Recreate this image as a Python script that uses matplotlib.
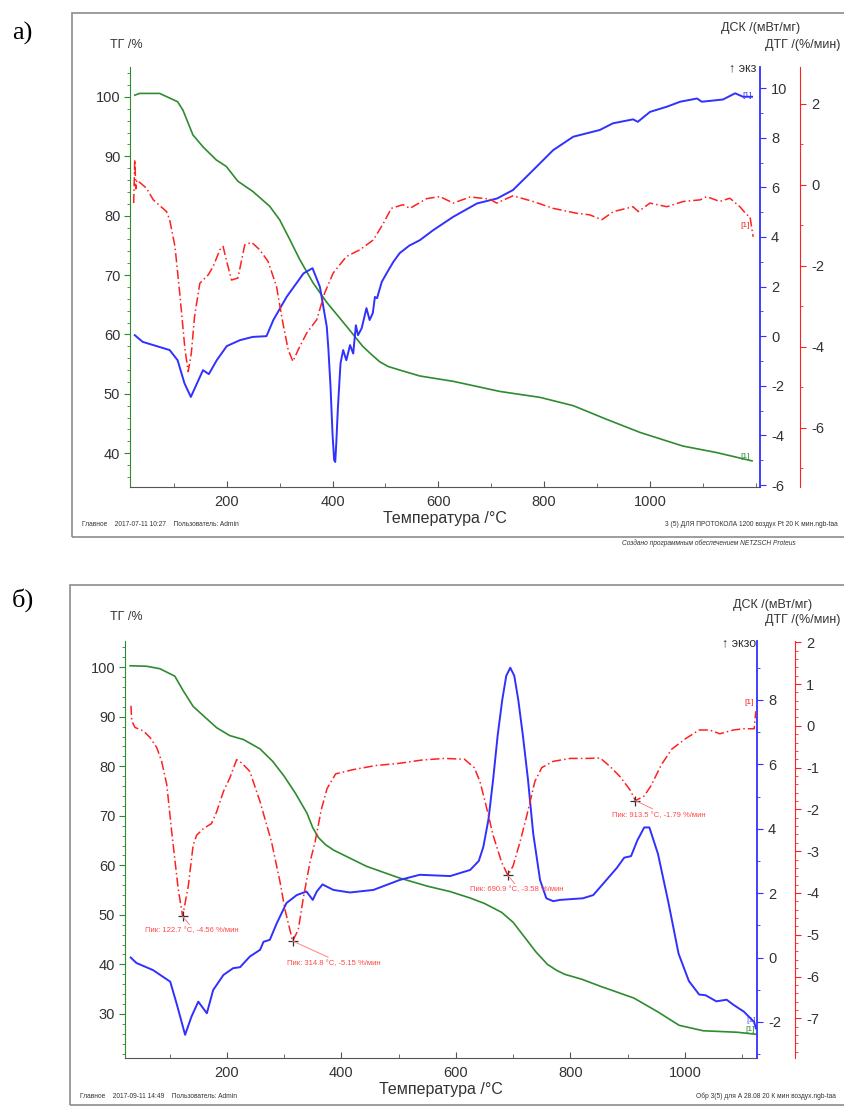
import matplotlib
matplotlib.use('Agg')
import matplotlib.pyplot as plt
from matplotlib.ticker import MultipleLocator, FixedLocator
from matplotlib.patches import Rectangle

plt.rcParams['font.family'] = ['Liberation Sans', 'DejaVu Sans']
plt.rcParams['axes.unicode_minus'] = False

GREEN = '#2e8b2e'
BLUE = '#3030ff'
RED = '#ff2020'
TXT = '#333333'

# ---------------- panel a) ----------------
a_tg_t = [26, 35, 73, 107, 117, 136, 155, 180, 199, 221, 249, 281, 300, 319, 338, 363, 389, 427,
          457, 470, 489, 505, 527, 565, 628, 654, 716, 792, 855, 918, 981, 1062, 1126, 1193]
a_tg = [100.3, 100.6, 100.6, 99.2, 97.8, 93.6, 91.6, 89.4, 88.3, 85.8, 84.1, 81.6, 79.3, 76.0, 72.6,
        68.7, 65.4, 61.3, 58.0, 56.9, 55.4, 54.6, 54.0, 53.0, 52.1, 51.6, 50.4, 49.4, 48.0, 45.7,
        43.5, 41.2, 40.1, 38.7]

a_dsc_t = [26, 41, 92, 107, 120, 132, 145, 155, 166, 181, 200, 225, 249, 275, 288, 313, 345, 362, 376,
           389, 392, 396, 400, 403, 405, 407, 410, 413, 415, 420, 426, 433, 439, 444, 448, 455, 464,
           470, 476, 480, 484, 493, 502, 515, 527, 545, 565, 590, 628, 673, 711, 741, 779, 817, 855,
           905, 930, 968, 977, 1000, 1032, 1057, 1089, 1098, 1138, 1161, 1176, 1193]
a_dsc = [0.04, -0.23, -0.56, -0.97, -1.9, -2.45, -1.84, -1.37, -1.53, -0.97, -0.40, -0.16, -0.03, 0.0,
         0.65, 1.58, 2.53, 2.74, 1.99, 0.38, -0.5, -2.0, -4.0, -5.0, -5.07, -4.3, -2.9, -1.8, -1.09,
         -0.56, -0.97, -0.36, -0.70, 0.44, 0.04, 0.32, 1.13, 0.65, 0.93, 1.58, 1.53, 2.19, 2.53, 3.0,
         3.35, 3.65, 3.87, 4.27, 4.81, 5.35, 5.55, 5.89, 6.69, 7.50, 8.04, 8.31, 8.58, 8.74, 8.64,
         9.04, 9.25, 9.45, 9.58, 9.45, 9.54, 9.79, 9.65, 9.65]

a_dtg_t = [24, 26, 28, 30, 48, 61, 86, 92, 102, 111, 121, 127, 133, 139, 149, 165, 174, 187, 193, 199,
           209, 221, 234, 247, 262, 278, 294, 306, 316, 325, 335, 351, 370, 385, 401, 426, 452, 477,
           496, 511, 533, 546, 578, 603, 628, 660, 697, 710, 741, 779, 817, 861, 886, 909, 931, 968,
           978, 1000, 1032, 1063, 1095, 1107, 1132, 1151, 1170, 1183, 1189, 1195]
a_dtg = [-0.45, 0.62, -0.1, 0.12, -0.08, -0.37, -0.66, -0.86, -1.52, -2.67, -4.07, -4.61, -4.15, -3.25,
         -2.43, -2.22, -2.02, -1.60, -1.52, -1.85, -2.35, -2.30, -1.48, -1.42, -1.60, -1.89, -2.51,
         -3.41, -4.07, -4.36, -4.07, -3.66, -3.33, -2.67, -2.18, -1.77, -1.60, -1.36, -0.95, -0.58,
         -0.49, -0.58, -0.34, -0.29, -0.45, -0.30, -0.35, -0.45, -0.27, -0.41, -0.58, -0.70, -0.74,
         -0.86, -0.66, -0.54, -0.66, -0.45, -0.54, -0.41, -0.37, -0.29, -0.41, -0.33, -0.54, -0.74,
         -0.78, -1.28]

# ---------------- panel б) ----------------
b_tg_t = [31, 60, 83, 109, 124, 141, 159, 182, 205, 229, 258, 280, 300, 320, 340, 350, 360, 372, 386,
          400, 444, 500, 550, 590, 625, 650, 680, 700, 720, 740, 760, 776, 790, 820, 852, 911, 953,
          990, 1032, 1091, 1124]
b_tg = [100.3, 100.2, 99.7, 98.2, 95.2, 92.1, 90.2, 87.8, 86.2, 85.4, 83.5, 81.0, 78.0, 74.5, 70.5,
        67.6, 65.6, 64.2, 63.1, 62.3, 59.8, 57.5, 55.8, 54.7, 53.4, 52.3, 50.5, 48.5, 45.5, 42.5,
        40.0, 38.8, 38.0, 37.0, 35.6, 33.2, 30.4, 27.7, 26.6, 26.3, 25.9]

b_dsc_t = [32, 42, 71, 101, 112, 127, 138, 150, 165, 176, 194, 211, 223, 240, 258, 264, 275, 287, 304,
           322, 339, 350, 357, 367, 386, 415, 456, 502, 537, 590, 625, 640, 648, 657, 665, 673, 681,
           688, 695, 702, 709, 717, 726, 735, 747, 758, 770, 782, 822, 840, 863, 881, 894, 906, 917,
           929, 938, 953, 971, 989, 1007, 1025, 1036, 1055, 1073, 1085, 1103, 1121, 1124]
b_dsc = [0.0, -0.17, -0.39, -0.75, -1.42, -2.40, -1.84, -1.37, -1.73, -1.01, -0.54, -0.33, -0.30, 0.03,
         0.24, 0.49, 0.55, 1.06, 1.69, 1.94, 2.05, 1.79, 2.05, 2.27, 2.10, 2.02, 2.10, 2.41, 2.57,
         2.53, 2.72, 3.0, 3.44, 4.3, 5.52, 6.9, 8.0, 8.75, 9.0, 8.75, 8.0, 6.9, 5.52, 3.86, 2.41, 1.84,
         1.75, 1.79, 1.84, 1.94, 2.41, 2.78, 3.10, 3.15, 3.64, 4.04, 4.04, 3.22, 1.73, 0.12, -0.73,
         -1.15, -1.17, -1.36, -1.31, -1.47, -1.68, -2.0, -2.2]

b_dtg_t = [32.5, 33.7, 39.5, 54, 65.7, 77.4, 86, 95, 103.6, 115, 122.7, 132.6, 141, 147, 159, 173, 182,
           194, 205, 217, 226, 240, 258, 278, 293, 301.5, 314.8, 324.7, 333, 345, 354, 365, 375, 390,
           420, 460, 500, 540, 580, 615, 632, 642, 654, 665, 680, 690.9, 700, 712, 724, 738, 750, 770,
           800, 830, 852, 869, 887, 905, 913.5, 929, 941, 959, 977, 1001, 1025, 1043, 1061, 1085,
           1103, 1121, 1124]
b_dtg = [0.48, 0.12, -0.04, -0.12, -0.28, -0.52, -0.85, -1.41, -2.54, -3.91, -4.56, -3.83, -2.86,
         -2.62, -2.46, -2.34, -2.06, -1.57, -1.25, -0.81, -0.89, -1.09, -1.82, -2.78, -3.75, -4.40,
         -5.15, -4.88, -4.16, -3.27, -2.78, -2.0, -1.5, -1.15, -1.05, -0.95, -0.9, -0.82, -0.78, -0.8,
         -1.0, -1.33, -1.98, -2.62, -3.27, -3.58, -3.35, -2.78, -2.14, -1.33, -1.0, -0.85, -0.78,
         -0.78, -0.77, -0.97, -1.22, -1.55, -1.79, -1.68, -1.43, -0.93, -0.56, -0.31, -0.10, -0.10,
         -0.19, -0.10, -0.07, -0.07, 0.35]

b_peaks_t = [122.7, 314.8, 690.9, 913.5]
b_peaks_v = [-4.56, -5.15, -3.58, -1.79]
b_peak_off = [(6.5, -7.9), (30, -13.7), (6.5, -7.9), (16.6, -7.9)]

x_ticks = [200, 400, 600, 800, 1000]

W, H = 844, 1108
fig = plt.figure(figsize=(W / 100, H / 100), dpi=100)


def fx(x):
    return x / W


def fy(y):
    return 1 - y / H


def build(left, right, top, bottom, xlim, tg_lim, dsc_lim, dtg_lim, red_px, dtg_major, dtg_minor):
    ax = fig.add_axes([fx(left), fy(bottom), fx(right - left), (bottom - top) / H])
    ax.patch.set_alpha(0)
    a2 = ax.twinx()
    a3 = ax.twinx()
    ax.set_xlim(xlim)
    ax.set_ylim(tg_lim)
    a2.set_ylim(dsc_lim)
    a3.set_ylim(dtg_lim)
    for s in ['top', 'right']:
        ax.spines[s].set_visible(False)
    ax.spines['left'].set_color(GREEN)
    ax.spines['bottom'].set_color('#555555')
    for s in ['top', 'left', 'bottom']:
        a2.spines[s].set_visible(False)
        a3.spines[s].set_visible(False)
    a2.spines['right'].set_color(BLUE)
    a2.spines['right'].set_linewidth(1.3)
    a3.spines['right'].set_color(RED)
    a3.spines['right'].set_position(('outward', red_px * 0.72))
    ax.xaxis.set_major_locator(FixedLocator(x_ticks))
    ax.xaxis.set_minor_locator(MultipleLocator(100))
    ax.yaxis.set_major_locator(MultipleLocator(10))
    ax.yaxis.set_minor_locator(MultipleLocator(2))
    a2.yaxis.set_major_locator(MultipleLocator(2))
    a2.yaxis.set_minor_locator(MultipleLocator(1))
    a3.yaxis.set_major_locator(MultipleLocator(dtg_major))
    a3.yaxis.set_minor_locator(MultipleLocator(dtg_minor))
    ax.tick_params(axis='x', which='both', direction='in', colors='#555555', labelcolor=TXT,
                   labelsize=10.5, pad=6)
    ax.tick_params(axis='x', which='major', length=4)
    ax.tick_params(axis='x', which='minor', length=3)
    ax.tick_params(axis='y', which='both', direction='out', colors=GREEN, labelcolor=TXT,
                   labelsize=10.5, pad=3)
    ax.tick_params(axis='y', which='major', length=4)
    ax.tick_params(axis='y', which='minor', length=2)
    a2.tick_params(axis='y', which='both', direction='out', colors=BLUE, labelcolor=TXT,
                   labelsize=10.5, pad=4)
    a2.tick_params(axis='y', which='major', length=4)
    a2.tick_params(axis='y', which='minor', length=2)
    a3.tick_params(axis='y', which='both', direction='out', colors=RED, labelcolor=TXT,
                   labelsize=10.5, pad=4)
    a3.tick_params(axis='y', which='major', length=4)
    a3.tick_params(axis='y', which='minor', length=2)
    ax.set_xlabel('Температура /°C', fontsize=11.5, color=TXT, labelpad=1)
    return ax, a2, a3


def frame(left, top, bottom):
    fig.patches.append(Rectangle((fx(left), fy(bottom)), fx(900 - left), (bottom - top) / H,
                                 transform=fig.transFigure, fill=False, ec='#8c8c8c', lw=1.2))


def headers(top_ttl, dsc_y, dtg_y, dsc_right, exo_y, exo_txt, label, label_y):
    fig.text(fx(12), fy(label_y), label, fontsize=19, family='Liberation Serif', va='center')
    fig.text(fx(110), fy(top_ttl), 'ТГ /%', fontsize=9, color=TXT, va='center')
    fig.text(fx(dsc_right), fy(dsc_y), 'ДСК /(мВт/мг)', fontsize=9, color=TXT, va='center', ha='right')
    fig.text(fx(840), fy(dtg_y), 'ДТГ /(%/мин)', fontsize=9, color=TXT, va='center', ha='right')
    fig.text(fx(756), fy(exo_y), exo_txt, fontsize=9, color=TXT, va='center', ha='right')


# ---- panel a ----
frame(72, 13, 537)
ax, a2, a3 = build(130, 760, 67, 487, (17, 1208), (34.3, 105.05), (-6.08, 10.85), (-7.46, 2.91), 40, 2, 1)
ax.plot(a_tg_t, a_tg, color=GREEN, lw=1.2)
a2.plot(a_dsc_t, a_dsc, color=BLUE, lw=1.4)
a3.plot(a_dtg_t, a_dtg, color=RED, lw=1.1, linestyle=(0, (6, 2, 1, 2)))
ax.text(1180, 39.5, '[1]', color=GREEN, fontsize=6, ha='center', va='center')
a2.text(1183, 9.7, '[1]', color=BLUE, fontsize=6, ha='center', va='center')
a3.text(1180, -1.0, '[1]', color=RED, fontsize=6, ha='center', va='center')
headers(45, 28, 45, 800, 68, '↑ экз', 'а)', 33)
fig.text(fx(82), fy(524), 'Главное    2017-07-11 10:27    Пользователь: Admin', fontsize=4.8,
         color=TXT, va='center')
fig.text(fx(838), fy(524), '3 (5) ДЛЯ ПРОТОКОЛА 1200 воздух Pt 20 K мин.ngb-taa', fontsize=4.8,
         color=TXT, va='center', ha='right')
fig.text(fx(622), fy(543), 'Создано программным обеспечением NETZSCH Proteus', fontsize=4.8,
         color=TXT, va='center', style='italic')

# ---- panel б ----
frame(70, 585, 1105)
bx, b2, b3 = build(125, 757, 641, 1058, (22, 1126), (21.1, 105.3), (-3.12, 9.83), (-7.95, 2.03), 38, 1, 0.2)
bx.plot(b_tg_t, b_tg, color=GREEN, lw=1.2)
b2.plot(b_dsc_t, b_dsc, color=BLUE, lw=1.4)
b3.plot(b_dtg_t, b_dtg, color=RED, lw=1.1, linestyle=(0, (6, 2, 1, 2)))
b3.plot(b_peaks_t, b_peaks_v, '+', color='#333333', ms=7, mew=0.9)
for t, v, off in zip(b_peaks_t, b_peaks_v, b_peak_off):
    b3.annotate('Пик: %.1f °C, %.2f %%/мин' % (t, v), xy=(t, v), xytext=off,
                textcoords='offset points', fontsize=5.5, color='#ff4a4a', ha='center', va='top',
                arrowprops=dict(arrowstyle='-', color='#ff8080', lw=0.7, shrinkA=0, shrinkB=0,
                                relpos=(0.5, 1)))
b3.text(1112, 0.55, '[1]', color=RED, fontsize=6, ha='center', va='center')
bx.text(1114, 26.9, '[1]', color=GREEN, fontsize=6, ha='center', va='center')
b2.text(1116, -1.95, '[1]', color=BLUE, fontsize=6, ha='center', va='center', alpha=0.8)
headers(617, 605, 620, 812, 643, '↑ экзо', 'б)', 600)
fig.text(fx(80), fy(1096), 'Главное    2017-09-11 14:49    Пользователь: Admin', fontsize=4.8,
         color=TXT, va='center')
fig.text(fx(836), fy(1096), 'Обр 3(5) для А 28.08 20 К мин воздух.ngb-taa', fontsize=4.8,
         color=TXT, va='center', ha='right')

fig.savefig('out.png', dpi=100)
